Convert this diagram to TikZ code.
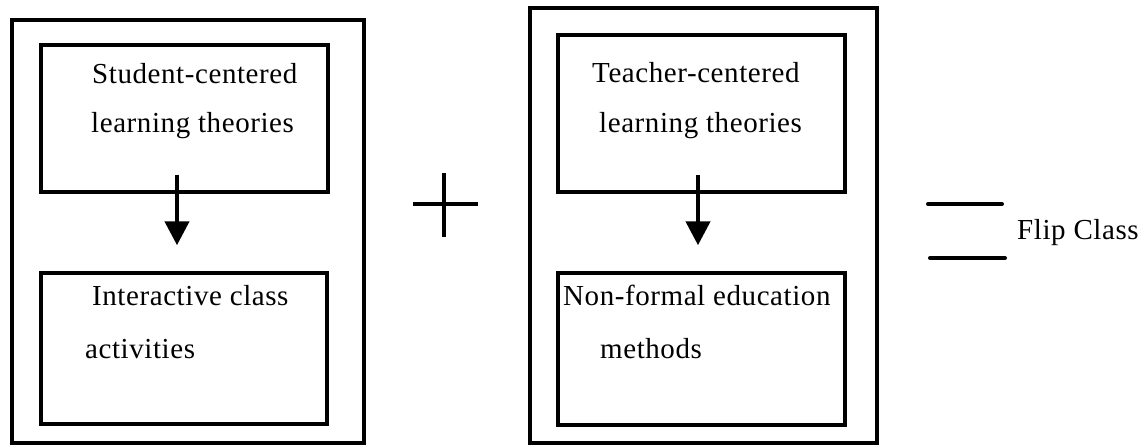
\documentclass[tikz,border=0pt]{standalone}
\usepackage{fontspec}
\setmainfont{Liberation Serif}[LetterSpace=2]
\usetikzlibrary{arrows.meta}
\tikzset{
  innerbox/.style={draw, line width=3.5pt, inner sep=0pt},
  outerbox/.style={draw, line width=3.5pt, inner sep=0pt},
  lbl/.style={anchor=base west, inner sep=0pt, font=\fontsize{29}{32}\selectfont},
  arr/.style={line width=4.5pt, -{Triangle[length=24pt,width=24pt]}},
  sym/.style={line width=4pt, line cap=round}
}
\begin{document}
\begin{tikzpicture}[x=1pt,y=-1pt]
\useasboundingbox (0,0) rectangle (1146,445);
% outer boxes
\node[outerbox, minimum width=352pt, minimum height=423pt] (lout) at (188,231.5) {};
\node[outerbox, minimum width=347pt, minimum height=435pt] (rout) at (703.5,225.5) {};
% inner boxes
\node[innerbox, minimum width=287pt, minimum height=147pt] (ltop) at (184.5,118.5) {};
\node[innerbox, minimum width=286pt, minimum height=151pt] (lbot) at (184,348.5) {};
\node[innerbox, minimum width=287pt, minimum height=157pt] (rtop) at (701.5,113.5) {};
\node[innerbox, minimum width=287pt, minimum height=152pt] (rbot) at (701.5,349) {};
% labels
\node[lbl] (t1) at (92,83) {Student-centered};
\node[lbl] (t2) at (91,132) {learning theories};
\node[lbl] (t3) at (92,305) {Interactive class};
\node[lbl] (t4) at (85,358) {activities};
\node[lbl] (t5) at (592,82) {Teacher-centered};
\node[lbl] (t6) at (599,132) {learning theories};
\node[lbl] (t7) at (563,305) {Non-formal education};
\node[lbl] (t8) at (600,358) {methods};
\node[lbl] (flip) at (1017,239) {Flip Class};
% arrows
\draw[arr] ([xshift=-7.5pt,yshift=19pt]ltop.south) -- ([xshift=-7pt,yshift=26pt]lbot.north);
\draw[arr] ([xshift=-3.5pt,yshift=19pt]rtop.south) -- ([xshift=-3.5pt,yshift=26pt]rbot.north);
% plus sign
\coordinate (plus) at (444,204);
\draw[line width=4pt] ([yshift=31pt]plus) -- ([yshift=-33pt]plus);
\draw[line width=4pt] ([xshift=-31pt]plus) -- ([xshift=34pt]plus);
% equals sign
\draw[sym] (928,204) -- (1002,204);
\draw[sym] (930,258) -- (1005,258);
\end{tikzpicture}
\end{document}
